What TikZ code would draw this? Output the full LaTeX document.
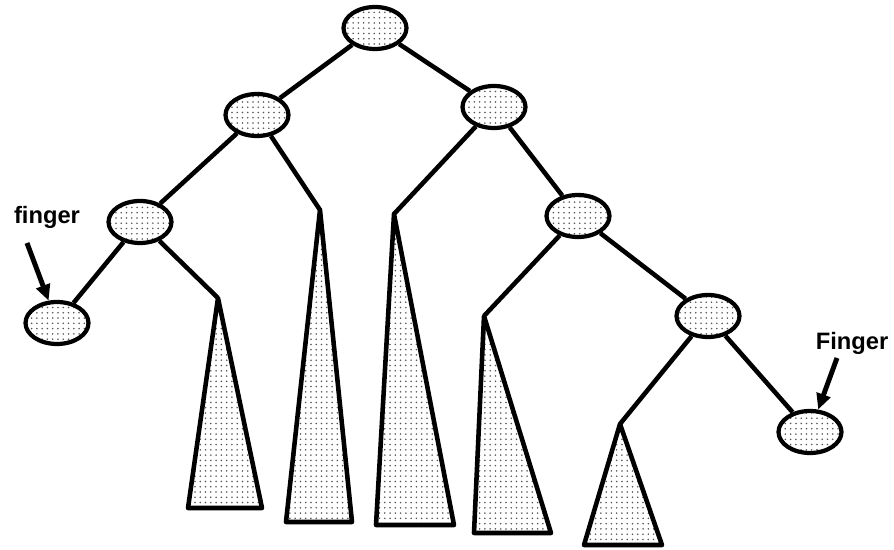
\documentclass[tikz,border=0pt]{standalone}
\usepackage{fontspec}
\setsansfont{Liberation Sans}
\usepackage{tikz}
\usetikzlibrary{shapes.geometric,patterns,arrows.meta}
\definecolor{inkc}{HTML}{000000}
\definecolor{dotc}{HTML}{555555}

\begin{document}
\begin{tikzpicture}[x=0.02cm, y=-0.02cm]
  \tikzset{
    keynode/.style={ellipse, draw=inkc, line width=2.4pt, pattern=dots, pattern color=dotc,
      minimum width=1.26cm, minimum height=0.84cm, inner sep=0pt},
    link/.style={draw=inkc, line width=2.6pt},
    subtree/.style={draw=inkc, line width=2.6pt, line join=round, pattern=dots, pattern color=dotc},
    pointer/.style={draw=inkc, line width=2.8pt, -{Triangle[length=9pt, width=8pt]}},
    tag/.style={font=\sffamily\bfseries\fontsize{13.5}{16}\selectfont}
  }
  \useasboundingbox (0,0) rectangle (894,550);
  % keys
  \node[keynode] (root) at (375,28) {};
  \node[keynode] (nl) at (257,115) {};
  \node[keynode] (nr) at (494,107) {};
  \node[keynode] (nll) at (140,222) {};
  \node[keynode] (nrr) at (578,216) {};
  \node[keynode] (nlll) at (57,323) {};
  \node[keynode] (nrrr) at (708,316) {};
  \node[keynode] (nrrrr) at (810,432) {};
  % subtrees
  \coordinate (t1) at (218,298);
  \coordinate (t2) at (320,210);
  \coordinate (t3) at (394,214);
  \coordinate (t4) at (484,316);
  \coordinate (t5) at (620,424);
  \draw[subtree] (t1) -- (188,508) -- (262,508) -- cycle;
  \draw[subtree] (t2) -- (286,522) -- (352,522) -- cycle;
  \draw[subtree] (t3) -- (376,525) -- (454,525) -- cycle;
  \draw[subtree] (t4) -- (474,533) -- (551,533) -- cycle;
  \draw[subtree] (t5) -- (584,545) -- (662,545) -- cycle;
  % links
  \draw[link] (root) -- (nl);
  \draw[link] (root) -- (nr);
  \draw[link] (nl) -- (nll);
  \draw[link] (nl) -- (t2);
  \draw[link] (nr) -- (t3);
  \draw[link] (nr) -- (nrr);
  \draw[link] (nll) -- (nlll);
  \draw[link] (nll) -- (t1);
  \draw[link] (nrr) -- (t4);
  \draw[link] (nrr) -- (nrrr);
  \draw[link] (nrrr) -- (t5);
  \draw[link] (nrrr) -- (nrrrr);
  % fingers
  \node[tag] (f1) at (47,217) {finger};
  \node[tag] (f2) at (852,343) {Finger};
  \coordinate (f1tail) at (27,243);
  \coordinate (f2tail) at (837,358);
  \draw[pointer] (f1tail) -- (nlll);
  \draw[pointer] (f2tail) -- (nrrrr);
\end{tikzpicture}
\end{document}
